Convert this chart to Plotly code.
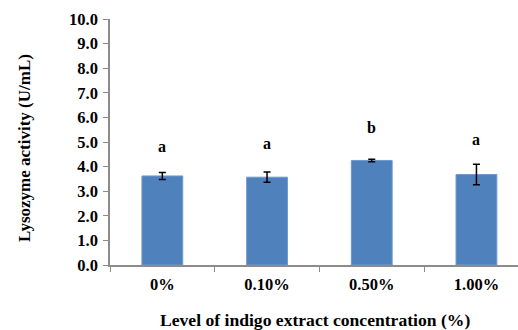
import plotly.graph_objects as go

categories = ["0%", "0.10%", "0.50%", "1.00%"]
activity = [3.62, 3.57, 4.25, 3.68]
errors = [0.14, 0.21, 0.05, 0.42]
letters = ["a", "a", "b", "a"]
letter_heights = [4.83, 4.95, 5.6, 5.11]
y_ticks = [0, 1, 2, 3, 4, 5, 6, 7, 8, 9, 10]

x_title = "Level of indigo extract concentration (%)"
y_title = "Lysozyme activity (U/mL)"

font_family = "Liberation Serif"
L, R, T, B, W, H = 110, 0, 19, 65, 518, 330
pw, ph = W - L - R, H - T - B

fig = go.Figure()
fig.add_trace(go.Bar(
    x=categories, y=activity,
    width=0.39,
    marker=dict(color="#4F81BD", line=dict(color="#6E9AD0", width=1)),
    error_y=dict(type="data", array=errors, visible=True, color="black",
                 thickness=1.5, width=3.5),
))

for c, l, h in zip(categories, letters, letter_heights):
    fig.add_annotation(x=c, y=h, text="<b>%s</b>" % l, showarrow=False,
                       font=dict(family=font_family, size=16, color="black"))

fig.add_annotation(xref="paper", yref="paper", x=(315 - L) / pw, y=-(320 - (H - B)) / ph,
                   xanchor="center", yanchor="middle", showarrow=False,
                   text="<b>%s</b>" % x_title,
                   font=dict(family=font_family, size=17.6, color="black"))
fig.add_annotation(xref="paper", yref="paper", x=(24 - L) / pw, y=((H - B) - 148) / ph,
                   xanchor="center", yanchor="middle", showarrow=False, textangle=-90,
                   text="<b>%s</b>" % y_title,
                   font=dict(family=font_family, size=17, color="black"))

fig.update_layout(
    width=W, height=H,
    margin=dict(l=L, r=R, t=T, b=B),
    plot_bgcolor="white", paper_bgcolor="white",
    showlegend=False,
    font=dict(family=font_family, color="black"),
    xaxis=dict(
        type="category", range=[-0.5, 3.397], automargin=False,
        showline=True, linecolor="#8C8C8C", linewidth=1.5,
        ticks="outside", tickson="boundaries", ticklen=5, tickcolor="#8C8C8C",
        ticklabelstandoff=3,
        tickfont=dict(family=font_family, size=16.5, color="black"),
        tickprefix="<b>", ticksuffix="</b>",
    ),
    yaxis=dict(
        range=[0, 10], tickvals=y_ticks, automargin=False,
        ticktext=["<b>%.1f</b>" % v for v in y_ticks],
        showline=True, linecolor="#8C8C8C", linewidth=1.5,
        ticks="outside", ticklen=5, tickcolor="#8C8C8C",
        ticklabelstandoff=2,
        showgrid=False, zeroline=False,
        tickfont=dict(family=font_family, size=16.5, color="black"),
    ),
)

fig.write_html("out.html", config={"displayModeBar": False},
               post_script="document.body.style.margin='0';document.body.style.overflow='hidden';")
